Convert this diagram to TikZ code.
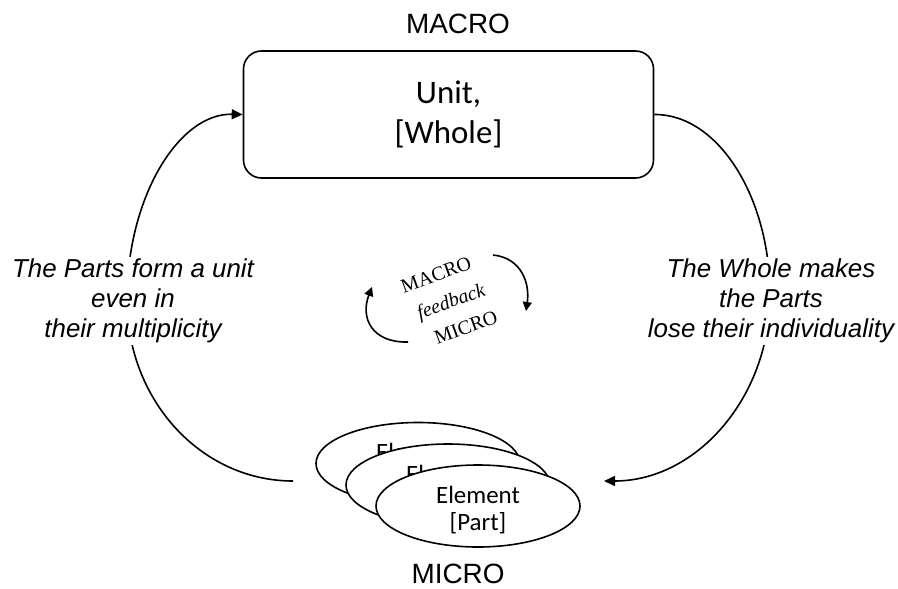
\documentclass[tikz,border=0pt]{standalone}
\usepackage{fontspec}
\setmainfont{Liberation Sans}
\newfontfamily\bodyfont{Carlito}
\newfontfamily\smallserif{Liberation Serif}
\usetikzlibrary{arrows.meta,shapes.geometric}
\begin{document}
\begin{tikzpicture}[x=1bp,y=-1bp,
  level/.style={font=\fontsize{28}{32}\selectfont},
  wholebox/.style={draw,line width=1.6bp,rounded corners=18bp,minimum width=410bp,minimum height=127bp,
    align=center,font=\bodyfont\fontsize{33}{40}\selectfont},
  partell/.style={draw,ellipse,fill=white,line width=1.6bp,minimum width=204bp,minimum height=82bp},
  parttext/.style={align=center,font=\bodyfont\fontsize{25}{28}\selectfont,inner sep=0pt},
  sidetext/.style={fill=white,align=center,inner sep=2bp,font=\itshape\fontsize{26}{30}\selectfont},
  loop/.style={line width=1.6bp,-{Triangle[length=11bp,width=10bp]}},
  smallloop/.style={line width=1.6bp,-{Triangle[length=9bp,width=9bp]}}]
\useasboundingbox (0,0) rectangle (898,589);

% levels
\node[level] (macro) at (458,24) {MACRO};
\node[level] (micro) at (458,574) {MICRO};

% the whole
\node[wholebox] (whole) at (448.5,114.5) {Unit,\\\relax [Whole]};

% the stacked parts, back to front
\node[partell] (p1) at (418,463.5) {};
\node[parttext] (t1) at (418,467.5) {Element\\\relax [Part]};
\node[partell] (p2) at (448,485) {};
\node[parttext] (t2) at (448,489) {Element\\\relax [Part]};
\node[partell] (p3) at (478,506) {};
\node[parttext] (t3) at (478,510) {Element\\\relax [Part]};

% way points of the big loop
\coordinate (leftfoot) at (293,481);
\coordinate (leftmid) at (127,300);
\coordinate (rightmid) at (770,295);
\coordinate (rightfoot) at (604,481);

\draw[loop] (leftfoot) .. controls (201,481) and (127,400) .. (leftmid)
  .. controls (127,197) and (179,113) .. (whole.west);
\draw[loop] (whole.east) .. controls (718,114) and (770,197) .. (rightmid)
  .. controls (770,398) and (696,481) .. (rightfoot);

% labels sitting on the loop
\node[sidetext] (up) at (133,301) {The Parts form a unit\\even in\\their multiplicity};
\node[sidetext] (down) at (771,301) {The Whole makes\\the Parts\\lose their individuality};

% small feedback cycle
\node[rotate=20,align=center,font=\smallserif\fontsize{20}{30}\selectfont] (fb) at (451,301)
  {MACRO\hspace*{10bp}\\{\itshape feedback}\\\hspace*{10bp}MICRO};
\coordinate (ra) at (493,255);
\coordinate (rb) at (526,311);
\coordinate (la) at (408,342);
\coordinate (lb) at (372,287);
\draw[smallloop] (ra) .. controls (522,258) and (530,284) .. (rb);
\draw[smallloop] (la) .. controls (372,343) and (360,318) .. (lb);
\end{tikzpicture}
\end{document}
